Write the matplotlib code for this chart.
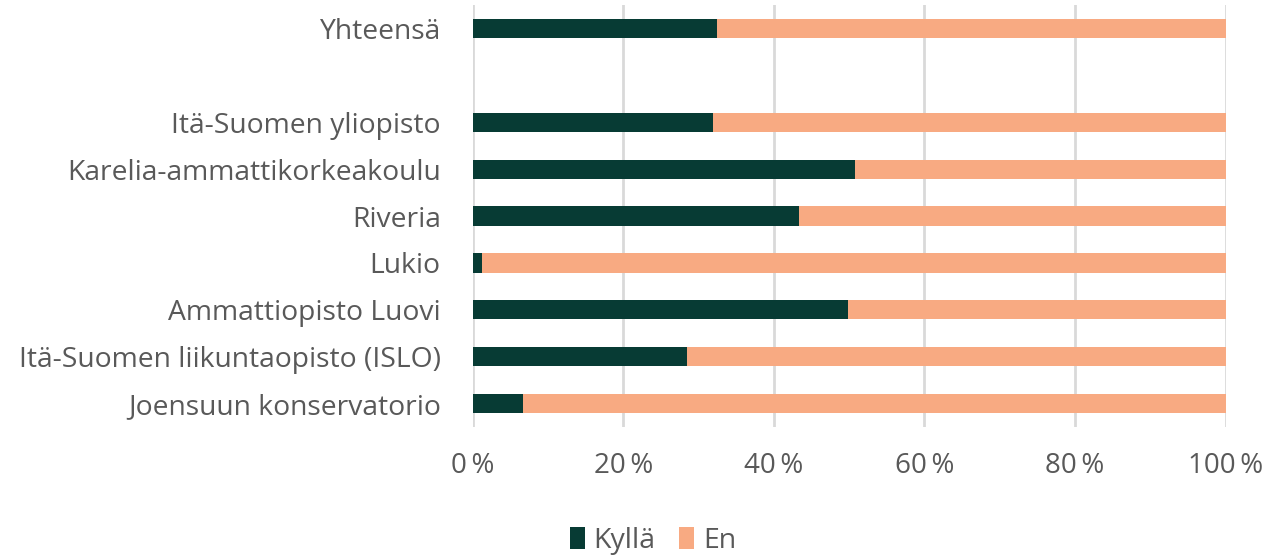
import matplotlib
matplotlib.use("Agg")
import matplotlib.pyplot as plt
from matplotlib.ticker import FuncFormatter

categories = ["Joensuun konservatorio", "Itä-Suomen liikuntaopisto (ISLO)",
              "Ammattiopisto Luovi", "Lukio", "Riveria",
              "Karelia-ammattikorkeakoulu", "Itä-Suomen yliopisto", "", "Yhteensä"]
kylla = [6.7, 28.4, 49.8, 1.3, 43.3, 50.8, 31.9, None, 32.4]
en = [None if k is None else 100 - k for k in kylla]

c_kylla = "#073B34"
c_en = "#F8AA82"
txt = "#595959"

plt.rcParams['font.family'] = ['Open Sans', 'DejaVu Sans']

fig = plt.figure(figsize=(12.7, 5.57), dpi=100)
ax = fig.add_axes([0.3722, 0.2334, 0.9651 - 0.3722, 0.991 - 0.2334])

pos = [i for i, k in enumerate(kylla) if k is not None]
kv = [kylla[i] for i in pos]
ev = [en[i] for i in pos]
h = 0.41
ax.barh(pos, kv, height=h, color=c_kylla, label="Kyllä", zorder=3)
ax.barh(pos, ev, left=kv, height=h, color=c_en, label="En", zorder=3)

ax.set_xlim(0, 100)
ax.set_ylim(-0.5, len(categories) - 0.5)
ax.set_yticks(range(len(categories)))
ax.set_yticklabels(categories, fontsize=20.3, color=txt)
ax.set_xticks([0, 20, 40, 60, 80, 100])
ax.xaxis.set_major_formatter(FuncFormatter(lambda v, p: f"{int(v)}\u2009%"))
ax.tick_params(axis='x', labelsize=20, colors=txt, length=0, pad=18)
ax.tick_params(axis='y', length=0, pad=23)
ax.grid(axis='x', color="#D9D9D9", linewidth=2, zorder=0)
for s in ax.spines.values():
    s.set_visible(False)

fig.legend(loc="center", bbox_to_anchor=(0.514, 0.029), ncol=2, frameon=False,
           fontsize=20.5, labelcolor=txt, handlelength=0.55, handleheight=0.8,
           handletextpad=0.3, columnspacing=0.8)

fig.savefig("out.png", dpi=100)
